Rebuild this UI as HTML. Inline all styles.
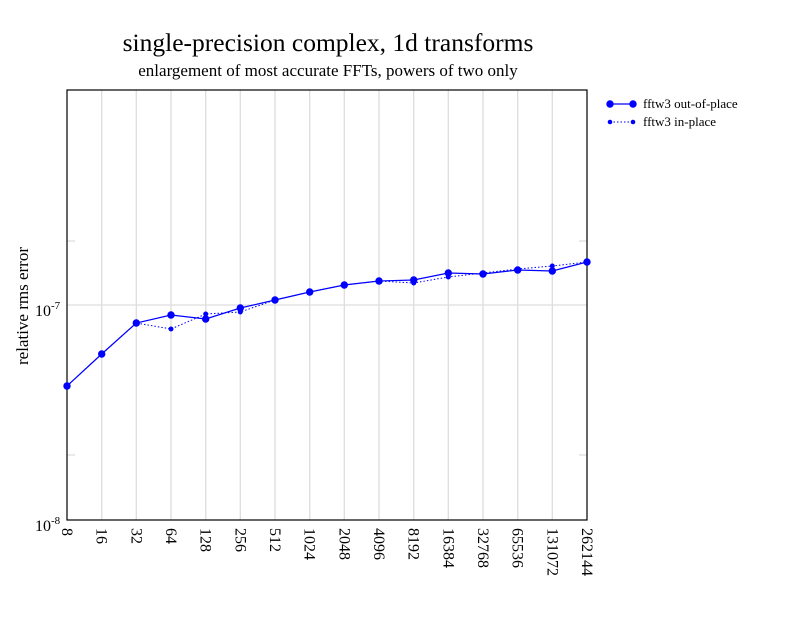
<!DOCTYPE html>
<html><head><style>body{margin:0;background:#fff}</style></head><body>
<svg width="792" height="612" xmlns="http://www.w3.org/2000/svg" font-family="Liberation Serif, serif">
<rect width="792" height="612" fill="#fff"/>
<text x="328" y="51" font-size="25.5" text-anchor="middle">single-precision complex, 1d transforms</text>
<text x="328" y="76" font-size="17" text-anchor="middle">enlargement of most accurate FFTs, powers of two only</text>
<g stroke="#ddd" stroke-width="1.3">
<line x1="67" y1="305" x2="587" y2="305"/>
<line x1="67" y1="241" x2="75" y2="241"/><line x1="579" y1="241" x2="587" y2="241"/>
<line x1="67" y1="455" x2="75" y2="455"/><line x1="579" y1="455" x2="587" y2="455"/>
<line x1="101.7" y1="90" x2="101.7" y2="520"/><line x1="136.3" y1="90" x2="136.3" y2="520"/>
<line x1="171" y1="90" x2="171" y2="520"/><line x1="205.7" y1="90" x2="205.7" y2="520"/>
<line x1="240.3" y1="90" x2="240.3" y2="520"/><line x1="275" y1="90" x2="275" y2="520"/>
<line x1="309.7" y1="90" x2="309.7" y2="520"/><line x1="344.3" y1="90" x2="344.3" y2="520"/>
<line x1="379" y1="90" x2="379" y2="520"/><line x1="413.7" y1="90" x2="413.7" y2="520"/>
<line x1="448.3" y1="90" x2="448.3" y2="520"/><line x1="483" y1="90" x2="483" y2="520"/>
<line x1="517.7" y1="90" x2="517.7" y2="520"/><line x1="552.3" y1="90" x2="552.3" y2="520"/>
</g>
<rect x="67" y="90" width="520" height="430" fill="none" stroke="#000" stroke-width="1.2"/>
<polyline fill="none" stroke="#00f" stroke-width="1" stroke-dasharray="1.5,2" points="67,386 101.7,354 136.3,323 171,329 205.7,314 240.3,312 275,300 309.7,292 344.3,285 379,281 413.7,283 448.3,277 483,273 517.7,269 552.3,266 587,262"/>
<g fill="#00f">
<circle cx="171" cy="329" r="2.5"/><circle cx="205.7" cy="314" r="2.5"/><circle cx="240.3" cy="312" r="2.5"/><circle cx="413.7" cy="283" r="2.5"/><circle cx="448.3" cy="277" r="2.5"/><circle cx="552.3" cy="266" r="2.5"/>
</g>
<polyline fill="none" stroke="#00f" stroke-width="1.2" points="67,386 101.7,354 136.3,323 171,315 205.7,319 240.3,308 275,300 309.7,292 344.3,285 379,281 413.7,280 448.3,273 483,274 517.7,270 552.3,271 587,262"/>
<g fill="#00f">
<circle cx="67" cy="386" r="3.7"/><circle cx="101.7" cy="354" r="3.7"/><circle cx="136.3" cy="323" r="3.7"/><circle cx="171" cy="315" r="3.7"/><circle cx="205.7" cy="319" r="3.7"/><circle cx="240.3" cy="308" r="3.7"/><circle cx="275" cy="300" r="3.7"/><circle cx="309.7" cy="292" r="3.7"/><circle cx="344.3" cy="285" r="3.7"/><circle cx="379" cy="281" r="3.7"/><circle cx="413.7" cy="280" r="3.7"/><circle cx="448.3" cy="273" r="3.7"/><circle cx="483" cy="274" r="3.7"/><circle cx="517.7" cy="270" r="3.7"/><circle cx="552.3" cy="271" r="3.7"/><circle cx="587" cy="262" r="3.7"/>
</g>
<text x="28" y="306" font-size="17" text-anchor="middle" transform="rotate(-90 28 306)">relative rms error</text>
<text x="35" y="316" font-size="16">10<tspan font-size="11" dy="-7">-7</tspan></text>
<text x="35" y="531" font-size="16">10<tspan font-size="11" dy="-7">-8</tspan></text>
<g font-size="16">
<text transform="translate(62,528) rotate(90)">8</text>
<text transform="translate(96.7,528) rotate(90)">16</text>
<text transform="translate(131.3,528) rotate(90)">32</text>
<text transform="translate(166,528) rotate(90)">64</text>
<text transform="translate(200.7,528) rotate(90)">128</text>
<text transform="translate(235.3,528) rotate(90)">256</text>
<text transform="translate(270,528) rotate(90)">512</text>
<text transform="translate(304.7,528) rotate(90)">1024</text>
<text transform="translate(339.3,528) rotate(90)">2048</text>
<text transform="translate(374,528) rotate(90)">4096</text>
<text transform="translate(408.7,528) rotate(90)">8192</text>
<text transform="translate(443.3,528) rotate(90)">16384</text>
<text transform="translate(478,528) rotate(90)">32768</text>
<text transform="translate(512.7,528) rotate(90)">65536</text>
<text transform="translate(547.3,528) rotate(90)">131072</text>
<text transform="translate(582,528) rotate(90)">262144</text>
</g>
<line x1="610" y1="104" x2="633" y2="104" stroke="#00f" stroke-width="1.2"/>
<circle cx="610" cy="104" r="3.7" fill="#00f"/><circle cx="633" cy="104" r="3.7" fill="#00f"/>
<text x="643" y="108" font-size="13">fftw3 out-of-place</text>
<line x1="610" y1="122" x2="633" y2="122" stroke="#00f" stroke-dasharray="1.5,2"/>
<circle cx="610" cy="122" r="2.3" fill="#00f"/><circle cx="633" cy="122" r="2.3" fill="#00f"/>
<text x="643" y="126" font-size="13">fftw3 in-place</text>
</svg>
</body></html>
